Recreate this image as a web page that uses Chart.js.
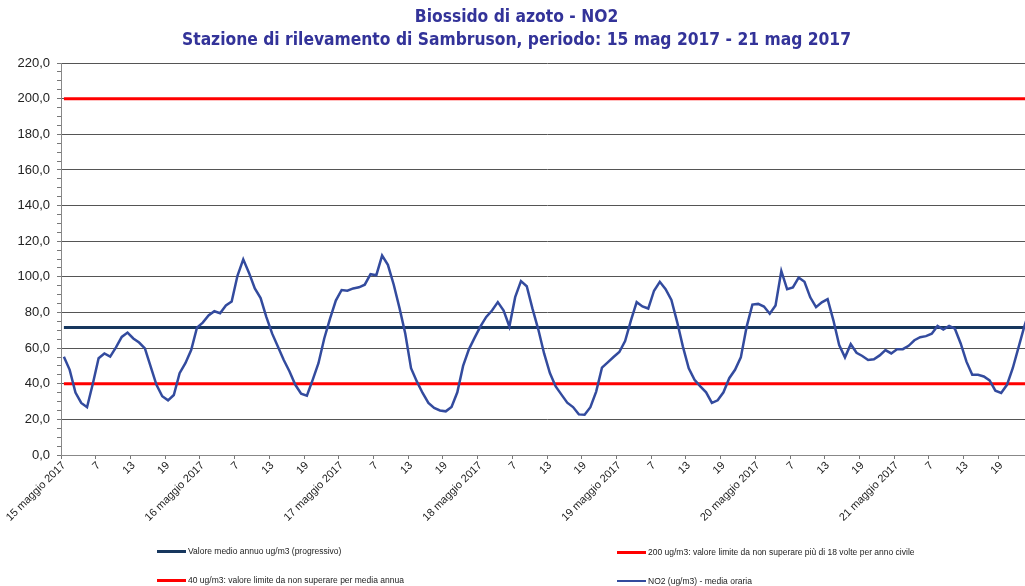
<!DOCTYPE html>
<html>
<head>
<meta charset="utf-8">
<script src="https://cdn.jsdelivr.net/npm/chart.js@4.4.1/dist/chart.umd.min.js"></script>
<style>
  body { margin: 0; overflow: hidden; background: #fff; font-family: "Liberation Sans", Arial, sans-serif; }
  #wrap { position: absolute; left: 0; top: 0; width: 1033px; height: 586px; }
  .leg { position: absolute; font-size: 8.5px; color: #222; white-space: nowrap; height: 12px; line-height: 12px; }
  .leg i { display: inline-block; width: 29px; vertical-align: middle; margin-right: 2px; margin-top: -1px; }
</style>
</head>
<body>
<div id="wrap"><canvas id="no2Chart"></canvas></div>
<div id="legend"></div>
<script>
// giorni del periodo
var days = ['15 maggio 2017', '16 maggio 2017', '17 maggio 2017', '18 maggio 2017',
            '19 maggio 2017', '20 maggio 2017', '21 maggio 2017'];

// NO2 media oraria (ug/m3), ore 1..24 per ogni giorno
var no2_15 = [55.2, 47.8, 35.0, 29.2, 26.8, 40.0, 54.3, 57.0, 55.2, 60.4, 66.3, 68.7,
              65.4, 63.1, 59.8, 49.6, 39.4, 33.0, 30.7, 33.7, 45.9, 51.5, 58.9, 71.5];
var no2_16 = [74.3, 78.3, 80.7, 79.6, 83.9, 86.1, 100.6, 109.8, 102.2, 93.5, 88.1, 77.4,
              68.1, 60.7, 53.3, 46.9, 39.4, 34.4, 33.3, 42.2, 51.5, 65.4, 76.5, 86.7];
var no2_17 = [92.6, 92.2, 93.5, 94.1, 95.6, 101.5, 100.9, 111.9, 106.7, 95.7, 82.6, 68.2,
              48.7, 41.3, 34.8, 29.2, 26.4, 25.0, 24.5, 27.0, 35.2, 50.0, 59.3, 65.9];
var no2_18 = [72.2, 77.5, 81.1, 85.8, 81.1, 72.1, 88.6, 97.6, 94.7, 82.0, 70.4, 57.0,
              46.0, 38.5, 33.9, 29.4, 26.9, 22.8, 22.6, 26.8, 35.6, 49.0, 52.0, 55.0];
var no2_19 = [57.8, 64.0, 75.4, 85.8, 83.4, 82.2, 92.2, 97.2, 93.1, 87.0, 74.6, 60.7,
              48.7, 42.2, 38.5, 35.2, 29.3, 30.7, 35.2, 43.1, 47.8, 54.8, 71.9, 84.4];
var no2_20 = [84.8, 83.3, 79.3, 83.9, 103.3, 93.1, 94.1, 99.6, 97.2, 88.5, 83.0, 85.7,
              87.5, 75.6, 61.7, 54.8, 62.2, 57.4, 55.6, 53.3, 53.7, 55.9, 58.9, 57.0];
var no2_21 = [59.3, 59.4, 61.3, 64.4, 66.1, 66.7, 68.1, 72.4, 70.4, 72.4, 70.9, 62.6,
              52.4, 45.0, 45.0, 44.1, 41.9, 36.1, 34.8, 39.4, 48.7, 60.4, 72.2, 82.0];

var no2 = no2_15.concat(no2_16, no2_17, no2_18, no2_19, no2_20, no2_21);

// valori di riferimento
var annualMean = 71.5;   // valore medio annuo (progressivo)
var limitHourly = 200;   // non superare piu' di 18 volte
var limitAnnual = 40;    // media annua

// etichette asse x: data alla prima ora, poi il numero dell'ora
var labels = [];
days.forEach(function (d) {
  for (var h = 1; h <= 24; h++) labels.push(h === 1 ? d : String(h));
});

var blue = '#334B9E', navy = '#17375E', red = '#FF0000';

var ctx = document.getElementById('no2Chart').getContext('2d');
var chart = new Chart(ctx, {
  type: 'line',
  data: {
    labels: labels,
    datasets: [{
      label: 'NO2 (ug/m3)  - media oraria',
      data: no2,
      borderColor: blue,
      borderWidth: 2.5,
      order: 0
    }, {
      label: 'Valore medio annuo ug/m3 (progressivo)',
      data: labels.map(function () { return annualMean; }),
      borderColor: navy,
      borderWidth: 3,
      order: 1
    }, {
      label: '200 ug/m3: valore limite da non superare più di 18 volte per anno civile',
      data: labels.map(function () { return limitHourly; }),
      borderColor: red,
      borderWidth: 3,
      order: 2
    }, {
      label: '40 ug/m3: valore limite da non superare per media annua',
      data: labels.map(function () { return limitAnnual; }),
      borderColor: red,
      borderWidth: 3,
      order: 3
    }]
  },
  options: {
    responsive: true,
    maintainAspectRatio: false,
    animation: false,
    layout: { padding: 0 },
    elements: { point: { radius: 0 }, line: { tension: 0 } },
    plugins: {
      legend: { display: false },
      tooltip: { enabled: false },
      title: {
        display: true,
        text: ['Biossido di azoto - NO2',
               'Stazione di rilevamento di Sambruson, periodo: 15 mag 2017 - 21 mag 2017'],
        color: '#333399',
        font: { family: '"DejaVu Sans Condensed", "DejaVu Sans", sans-serif', size: 17.3, weight: 'bold', lineHeight: 1.33 },
        padding: { top: 6, bottom: 11 }
      }
    },
    scales: {
      x: {
        offset: true,
        grid: {
          offset: true,
          drawOnChartArea: false,
          tickLength: 4,
          tickColor: function (c) { return c.index % 6 === 0 ? '#777' : 'rgba(0,0,0,0)'; }
        },
        border: { color: '#888', width: 1 },
        ticks: {
          autoSkip: false,
          minRotation: 45,
          maxRotation: 45,
          padding: 0,
          color: '#222',
          font: { family: '"Liberation Sans", Arial, sans-serif', size: 11 },
          callback: function (v, i) { return i % 6 === 0 ? labels[i] : ''; }
        },
        afterFit: function (s) { s.height = 131; s.paddingLeft = 0; s.paddingRight = 0; }
      },
      y: {
        min: 0,
        max: 220,
        grid: {
          color: function (c) { return c.tick && c.tick.value % 20 === 0 ? '#555' : 'rgba(0,0,0,0)'; },
          tickColor: '#777',
          tickLength: 4
        },
        border: { color: '#888', width: 1 },
        ticks: {
          stepSize: 5,
          autoSkip: false,
          maxTicksLimit: 100,
          padding: 7,
          color: '#222',
          font: { family: '"Liberation Sans", Arial, sans-serif', size: 13 },
          callback: function (v) { return v % 20 === 0 ? v.toFixed(1).replace('.', ',') : ''; }
        },
        afterFit: function (s) { s.width = 61; }
      }
    }
  }
});

// legenda su due colonne come nell'originale
var legendItems = [
  { ds: 1, left: 157, top: 545 },
  { ds: 2, left: 617, top: 546 },
  { ds: 3, left: 157, top: 574 },
  { ds: 0, left: 617, top: 575 }
];
var legendEl = document.getElementById('legend');
legendItems.forEach(function (it) {
  var ds = chart.data.datasets[it.ds];
  var div = document.createElement('div');
  div.className = 'leg';
  div.style.left = it.left + 'px';
  div.style.top = it.top + 'px';
  var sw = document.createElement('i');
  sw.style.borderTop = (ds.borderWidth >= 3 ? 3 : 2) + 'px solid ' + ds.borderColor;
  div.appendChild(sw);
  div.appendChild(document.createTextNode(ds.label));
  legendEl.appendChild(div);
});
</script>
</body>
</html>
